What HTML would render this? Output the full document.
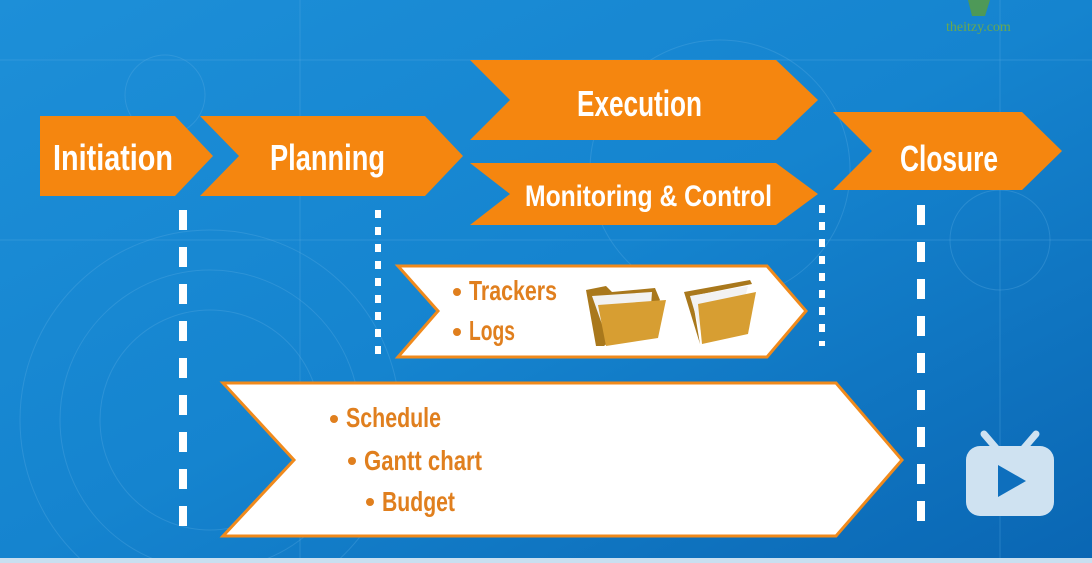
<!DOCTYPE html>
<html><head><meta charset="utf-8"><style>
html,body{margin:0;padding:0;width:1092px;height:563px;overflow:hidden}
svg{display:block;position:absolute;left:0;top:0}
text{font-family:"Liberation Sans",sans-serif;font-weight:bold}
</style></head><body>
<svg width="1092" height="563" viewBox="0 0 1092 563" xmlns="http://www.w3.org/2000/svg">
<defs>
<linearGradient id="bg" x1="0" y1="0" x2="1" y2="1">
<stop offset="0" stop-color="#1d8fd8"/><stop offset="0.5" stop-color="#1584cf"/><stop offset="1" stop-color="#0a66b3"/>
</linearGradient>
</defs>
<rect width="1092" height="563" fill="url(#bg)"/>
<g fill="none" stroke="#5fb0e6" stroke-opacity="0.3" stroke-width="1">
<circle cx="210" cy="420" r="190"/><circle cx="210" cy="420" r="150"/><circle cx="210" cy="420" r="110"/>
<circle cx="165" cy="95" r="40"/><circle cx="720" cy="170" r="130"/><circle cx="1000" cy="240" r="50"/>
<line x1="0" y1="60" x2="1092" y2="60"/><line x1="0" y1="240" x2="1092" y2="240"/>
<line x1="300" y1="0" x2="300" y2="563"/><line x1="1000" y1="0" x2="1000" y2="563"/>
</g>
<rect x="0" y="558" width="1092" height="5" fill="#c9dff0"/>
<g fill="#f5860f">
<polygon points="40,116 175,116 213,156 175,196 40,196"/>
<polygon points="200,116 425,116 463,156 425,196 200,196 239,156"/>
<polygon points="470,60 776,60 818,100 776,140 470,140 510,100"/>
<polygon points="470,163 776,163 818,194 776,225 470,225 510,194"/>
<polygon points="833,112 1022,112 1062,151 1022,190 833,190 872,151"/>
</g>
<g fill="#fff" stroke="#f08a1c" stroke-width="3">
<polygon points="398,266 767,266 806,311 767,357 398,357 438,311"/>
<polygon points="223,383 836,383 902,460 836,536 223,536 294,460"/>
</g>
<g fill="#fff">
<text x="53" y="170" font-size="36" textLength="120" lengthAdjust="spacingAndGlyphs">Initiation</text>
<text x="270" y="170" font-size="36" textLength="115" lengthAdjust="spacingAndGlyphs">Planning</text>
<text x="577" y="116" font-size="36" textLength="125" lengthAdjust="spacingAndGlyphs">Execution</text>
<text x="525" y="206" font-size="30" textLength="247" lengthAdjust="spacingAndGlyphs">Monitoring &amp; Control</text>
<text x="900" y="171" font-size="36" textLength="98" lengthAdjust="spacingAndGlyphs">Closure</text>
</g>
<g fill="#e07f1e">
<circle cx="457" cy="292" r="4"/><circle cx="457" cy="332" r="4"/>
<circle cx="334" cy="419" r="4"/><circle cx="352" cy="461" r="4"/><circle cx="370" cy="502" r="4"/>
<text x="469" y="300" font-size="28" textLength="88" lengthAdjust="spacingAndGlyphs">Trackers</text>
<text x="469" y="340" font-size="28" textLength="46" lengthAdjust="spacingAndGlyphs">Logs</text>
<text x="346" y="427" font-size="28" textLength="95" lengthAdjust="spacingAndGlyphs">Schedule</text>
<text x="364" y="470" font-size="28" textLength="118" lengthAdjust="spacingAndGlyphs">Gantt chart</text>
<text x="382" y="511" font-size="28" textLength="73" lengthAdjust="spacingAndGlyphs">Budget</text>
</g>
<g>
<polygon points="586,290 606,286 612,292 655,288 660,300 604,346 596,346" fill="#a9781c"/>
<polygon points="592,296 652,292 650,320 604,330" fill="#f2f2f2"/>
<polygon points="598,305 666,300 658,338 606,346" fill="#d79e32"/>
<polygon points="684,292 750,280 752,284 692,296 700,344" fill="#a9781c"/>
<polygon points="690,296 748,286 740,318 700,330" fill="#f2f2f2"/>
<polygon points="698,304 756,292 748,334 702,344" fill="#d79e32"/>
</g>
<g stroke="#fff">
<line x1="183" y1="210" x2="183" y2="540" stroke-width="8" stroke-dasharray="20,17"/>
<line x1="378" y1="210" x2="378" y2="358" stroke-width="6" stroke-dasharray="8,9"/>
<line x1="822" y1="205" x2="822" y2="346" stroke-width="6" stroke-dasharray="8,9"/>
<line x1="921" y1="205" x2="921" y2="525" stroke-width="8" stroke-dasharray="20,17"/>
</g>
<text x="946" y="31" font-size="14" fill="#6aa84f" style="font-family:'Liberation Serif',serif;font-weight:normal">theitzy.com</text>
<polygon points="968,0 990,0 985,16 972,16" fill="#5c9e3a" opacity="0.8"/>
<g fill="#cfe2f1">
<line x1="984" y1="434" x2="996" y2="448" stroke="#cfe2f1" stroke-width="7" stroke-linecap="round"/>
<line x1="1036" y1="434" x2="1024" y2="448" stroke="#cfe2f1" stroke-width="7" stroke-linecap="round"/>
<rect x="966" y="446" width="88" height="70" rx="14"/>
<polygon points="998,465 998,497 1026,481" fill="#0e6fbd"/>
</g>
</svg>
</body></html>
